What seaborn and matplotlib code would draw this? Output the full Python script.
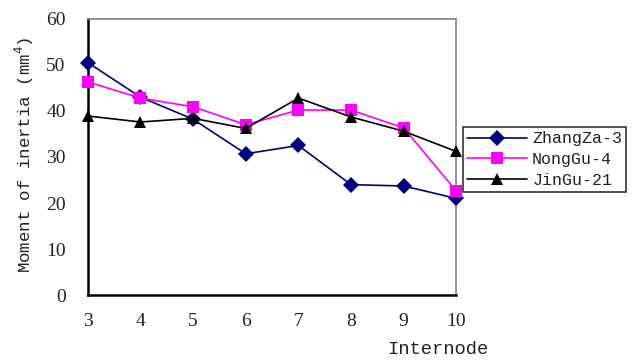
import numpy as np
import pandas as pd
import matplotlib.pyplot as plt
import seaborn as sns

internode = [3, 4, 5, 6, 7, 8, 9, 10]
zhangza3 = [50.5, 43.0, 38.2, 30.7, 32.5, 24.0, 23.7, 21.0]
nonggu4 = [46.3, 42.8, 40.9, 37.0, 40.2, 40.2, 36.3, 22.6]
jingu21 = [38.9, 37.6, 38.4, 36.2, 42.8, 38.7, 35.6, 31.2]
names = ["ZhangZa-3", "NongGu-4", "JinGu-21"]

df = pd.DataFrame({
    "Internode": internode * 3,
    "value": zhangza3 + nonggu4 + jingu21,
    "cultivar": [names[0]] * 8 + [names[1]] * 8 + [names[2]] * 8,
})

sns.set_style("white")
plt.rcParams['font.family'] = ['Liberation Mono', 'DejaVu Sans']
plt.rcParams['mathtext.fontset'] = 'custom'
plt.rcParams['mathtext.rm'] = 'Liberation Mono'

fig = plt.figure(figsize=(6.32, 3.63), dpi=100)
ax = fig.add_axes([0.139, 0.187, 0.583, 0.761])

pal = {names[0]: "#000080", names[1]: "#FF00FF", names[2]: "#000000"}
mk = {names[0]: "D", names[1]: "s", names[2]: "^"}
sns.lineplot(data=df, x="Internode", y="value", hue="cultivar", style="cultivar",
             palette=pal, markers=mk, dashes=False, ax=ax, linewidth=1.2,
             markersize=8, markeredgewidth=0, clip_on=False, zorder=3)

ax.set_xlim(3, 10)
ax.set_ylim(0, 60)
ax.set_xticks(internode)
ax.set_yticks(range(0, 61, 10))
ax.tick_params(direction='in', length=4, width=1.2, labelsize=14, colors='black')
ax.tick_params(axis='x', pad=13)
ax.tick_params(axis='y', pad=16)
for s in ['left', 'bottom']:
    ax.spines[s].set_color('black')
    ax.spines[s].set_linewidth(1.8)
for s in ['top', 'right']:
    ax.spines[s].set_color('#808080')
    ax.spines[s].set_linewidth(1.2)
for lbl in ax.get_xticklabels() + ax.get_yticklabels():
    lbl.set_fontfamily('Liberation Serif')
    lbl.set_color('#222222')

ax.set_ylabel("")
ax.set_xlabel("")
fig.text(0.04, 0.575, "Moment of inertia (mm$^4$)", fontsize=12.5, rotation=90,
         ha='center', va='center', color='#222222')
fig.text(0.692, 0.015, "Internode", fontsize=13.5, ha='center', va='bottom', color='#222222')

leg = ax.legend(loc='center left', bbox_to_anchor=(1.018, 0.49), fontsize=12,
                frameon=True, fancybox=False, handlelength=3.6, borderpad=0.25,
                labelspacing=0.35, handletextpad=0.3, borderaxespad=0)
leg.get_frame().set_edgecolor('black')
leg.get_frame().set_linewidth(1.2)
for t in leg.get_texts():
    t.set_color('#222222')

fig.savefig("out.png", dpi=100)
